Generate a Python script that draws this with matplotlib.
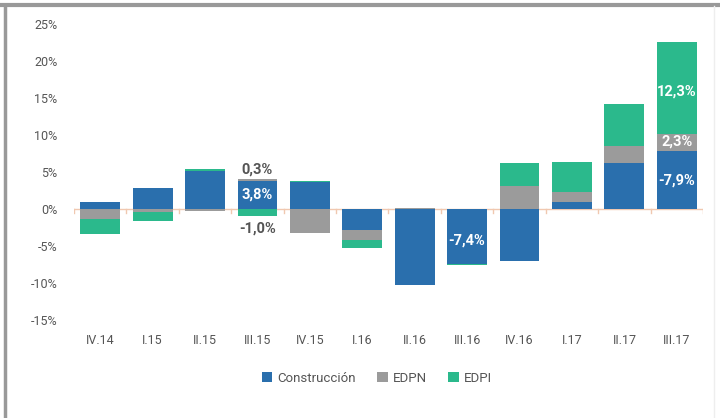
import matplotlib
matplotlib.use("Agg")
import matplotlib.pyplot as plt
import numpy as np
from matplotlib.lines import Line2D
from matplotlib.patches import Patch

categories = ["IV.14", "I.15", "II.15", "III.15", "IV.15", "I.16", "II.16",
              "III.16", "IV.16", "I.17", "II.17", "III.17"]
construccion = [0.9, 2.8, 5.2, 3.8, 3.6, -2.8, -10.3, -7.4, -7.0, 1.0, 6.2, 7.9]
edpn = [-1.3, -0.4, -0.3, 0.3, -3.3, -1.35, 0.2, 0.0, 3.15, 1.3, 2.25, 2.3]
edpi = [-2.1, -1.2, 0.2, -1.0, 0.2, -1.1, 0.0, -0.2, 3.1, 4.0, 5.8, 12.3]
yticks = [-15, -10, -5, 0, 5, 10, 15, 20, 25]

colors = {"Construcción": "#2a6fad", "EDPN": "#9b9b9b", "EDPI": "#2bb98c"}
series = [("Construcción", construccion), ("EDPN", edpn), ("EDPI", edpi)]

plt.rcParams["font.family"] = ["Roboto", "DejaVu Sans"]

fig = plt.figure(figsize=(7.2, 4.18), dpi=100)
ax = fig.add_axes([74/720, 1-320/418, 629/720, (320-24)/418])

x = np.arange(len(categories))
pos_base = np.zeros(len(categories))
neg_base = np.zeros(len(categories))
w = 0.76
for name, vals in series:
    vals = np.array(vals, dtype=float)
    bottoms = np.where(vals >= 0, pos_base, neg_base)
    ax.bar(x, vals, w, bottom=bottoms, color=colors[name], edgecolor="none", zorder=3)
    pos_base += np.where(vals >= 0, vals, 0)
    neg_base += np.where(vals < 0, vals, 0)

ax.set_ylim(-15, 25)
ax.set_xlim(-0.5, len(categories) - 0.5)
ax.set_yticks(yticks)
ax.set_yticklabels([f"{t}%" for t in yticks])
ax.set_xticks(x)
ax.set_xticklabels(categories)
for s in ax.spines.values():
    s.set_visible(False)
ax.tick_params(axis="both", length=0, colors="#555555", labelsize=9)
ax.tick_params(axis="y", pad=12)
ax.tick_params(axis="x", pad=10)
# zero line with minor ticks between categories
ax.axhline(0, color="#f0c8b0", lw=1, zorder=2)
for b in np.arange(-0.5, len(categories), 1.0):
    ax.plot([b, b], [0, -0.6], color="#f0c8b0", lw=1, zorder=2)

# data labels
def lab(xi, y, txt, color="white"):
    ax.text(xi, y, txt, ha="center", va="center", color=color,
            fontsize=10.5, fontweight="bold", zorder=5)

lab(3, 5.3, "0,3%", "#555555")
lab(3, 2.0, "3,8%")
lab(3, -2.6, "-1,0%", "#555555")
lab(7, -4.3, "-7,4%")
lab(11, 15.9, "12,3%")
lab(11, 9.1, "2,3%")
lab(11, 3.9, "-7,9%")

handles = [Patch(facecolor=colors[n], edgecolor="none") for n, _ in series]
fig.legend(handles, [n for n, _ in series], loc="center", bbox_to_anchor=(377/720, 1-378/418),
           ncol=3, frameon=False, fontsize=9.5, handlelength=0.8, handleheight=0.8,
           handletextpad=0.4, columnspacing=1.6, labelcolor="#555555")

# figure border
fig.add_artist(Line2D([0, 1], [1-4.5/418, 1-4.5/418], color="#999999", lw=3, transform=fig.transFigure))
fig.add_artist(Line2D([5/720, 5/720], [0, 1-4.5/418], color="#999999", lw=2.5, transform=fig.transFigure))
fig.add_artist(Line2D([714/720, 714/720], [0, 1-6/418], color="#eeeeee", lw=1, transform=fig.transFigure))

fig.savefig("out.png", dpi=100)
